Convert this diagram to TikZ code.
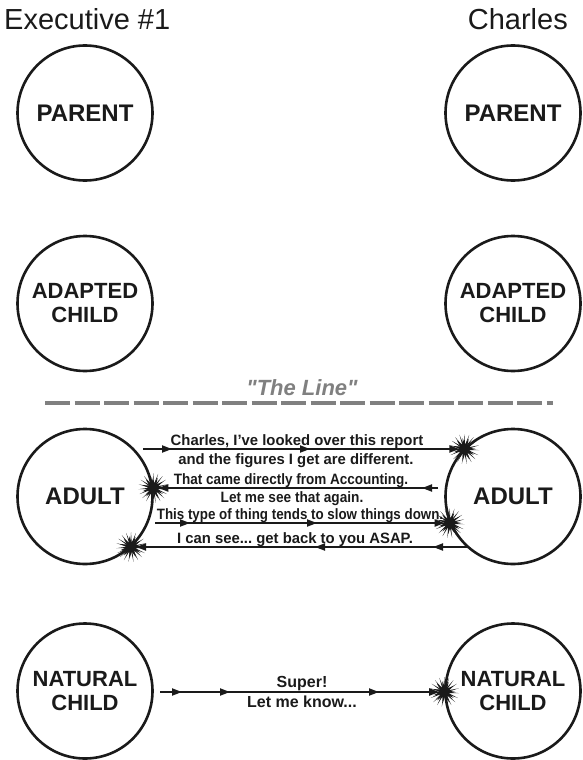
\documentclass[tikz,border=0pt]{standalone}
\usepackage{fontspec}
\setmainfont{Liberation Sans}
\usetikzlibrary{arrows.meta,decorations.markings,shapes.geometric}
\definecolor{linegray}{gray}{0.5}
\definecolor{ink}{HTML}{1A1A1A}
\frenchspacing
\begin{document}
\begin{tikzpicture}[x=1pt,y=-1pt,
  state/.style={circle,draw=ink,line width=2.6pt,minimum size=135pt,inner sep=0pt,align=center,text=ink,
    font=\bfseries\fontsize{22}{24}\selectfont},
  bigstate/.style={state,font=\bfseries\fontsize{24}{26}\selectfont},
  head/.style={font=\fontsize{29}{30}\selectfont,inner sep=0pt,text=ink},
  msg/.style={font=\bfseries\fontsize{15}{16}\selectfont,inner sep=0pt,text=ink,anchor=base},
  smsg/.style={font=\bfseries\fontsize{16}{17}\selectfont,inner sep=0pt,text=ink,anchor=base},
  tipstyle/.tip={Triangle[length=10pt,width=7pt]},
  msgarrow/.style={draw=ink,line width=2pt,-{tipstyle},shorten >=5pt},
  midarrow/.style={postaction={decorate,decoration={markings,mark=at position #1 with {\arrow{tipstyle}}}}},
  burst/.style={star,star points=19,star point ratio=3.6,fill=ink,minimum size=30pt,inner sep=0pt},
  burstb/.style={star,star points=11,star point ratio=2.4,fill=ink,minimum size=22pt,inner sep=0pt,rotate=9}
]
\useasboundingbox (0,0) rectangle (582,760);

% headings
\node[head,anchor=base west] (hl) at (4,30) {Executive \#1};
\node[head,anchor=base east] (hr) at (568,30) {Charles};

% ego states
\node[bigstate] (LP) at (85,113) {PARENT};
\node[bigstate] (RP) at (513,113) {PARENT};
\node[state] (LC) at (85,303.5) {ADAPTED\\CHILD};
\node[state] (RC) at (513,303.5) {ADAPTED\\CHILD};
\node[bigstate] (LA) at (85,496.5) {ADULT};
\node[bigstate] (RA) at (513,496.5) {ADULT};
\node[state] (LN) at (85,691) {NATURAL\\CHILD};
\node[state] (RN) at (513,691) {NATURAL\\CHILD};

% The Line
\node[font=\bfseries\itshape\fontsize{22}{24}\selectfont,text=linegray,inner sep=0pt] (tl) at (302,388) {\textquotedbl The Line\textquotedbl};
\coordinate (d1) at (45,403);
\coordinate (d2) at (553,403);
\draw[linegray,line width=4pt,dash pattern=on 25pt off 4.5pt] (d1) -- (d2);

% impact points
\coordinate (p1) at (RA.135.3);
\coordinate (p2) at (LA.7);
\coordinate (p3) at (RA.203);
\coordinate (p4) at (LA.-48);
\coordinate (p5) at (RN.182);

% start points
\coordinate (s1) at (143,449);
\coordinate (s2) at (438,488);
\coordinate (s3) at (155,523);
\coordinate (s4) at (467,547);
\coordinate (s5) at (160,692);

\draw[msgarrow,midarrow=29pt,midarrow=167pt] (s1) -- (s1 -| p1);
\draw[msgarrow,midarrow=16pt] (s2) -- (s2 -| p2);
\draw[msgarrow,midarrow=35pt,midarrow=162pt] (s3) -- (s3 -| p3);
\draw[msgarrow,midarrow=34pt,midarrow=152pt] (s4) -- (s4 -| p4);
\draw[msgarrow,midarrow=22pt,midarrow=70pt,midarrow=219pt] (s5) -- (s5 -| p5);

% bursts
\node[burst] (b1) at (s1 -| p1) {};
\node[burstb] (b1b) at (b1) {};
\node[burst] (b2) at (s2 -| p2) {};
\node[burstb] (b2b) at (b2) {};
\node[burst] (b3) at (s3 -| p3) {};
\node[burstb] (b3b) at (b3) {};
\node[burst] (b4) at (s4 -| p4) {};
\node[burstb] (b4b) at (b4) {};
\node[burst] (b5) at (s5 -| p5) {};
\node[burstb] (b5b) at (b5) {};

% messages
\node[msg] (t1) at (297,445) {\scalebox{0.99}[1]{Charles, I’ve looked over this report}};
\node[msg] (t2) at (296,464) {\scalebox{0.99}[1]{and the figures I get are different.}};
\node[msg] (t3) at (291,484) {\scalebox{0.9}[1]{That came directly from Accounting.}};
\node[msg] (t4) at (292,502) {\scalebox{0.91}[1]{Let me see that again.}};
\node[msg] (t5) at (300,519) {\scalebox{0.89}[1]{This type of thing tends to slow things down.}};
\node[msg] (t6) at (295,543) {\scalebox{0.99}[1]{I can see... get back to you ASAP.}};
\node[smsg] (t7) at (302,687) {Super!};
\node[smsg] (t8) at (302,707) {Let me know...};
\end{tikzpicture}
\end{document}
